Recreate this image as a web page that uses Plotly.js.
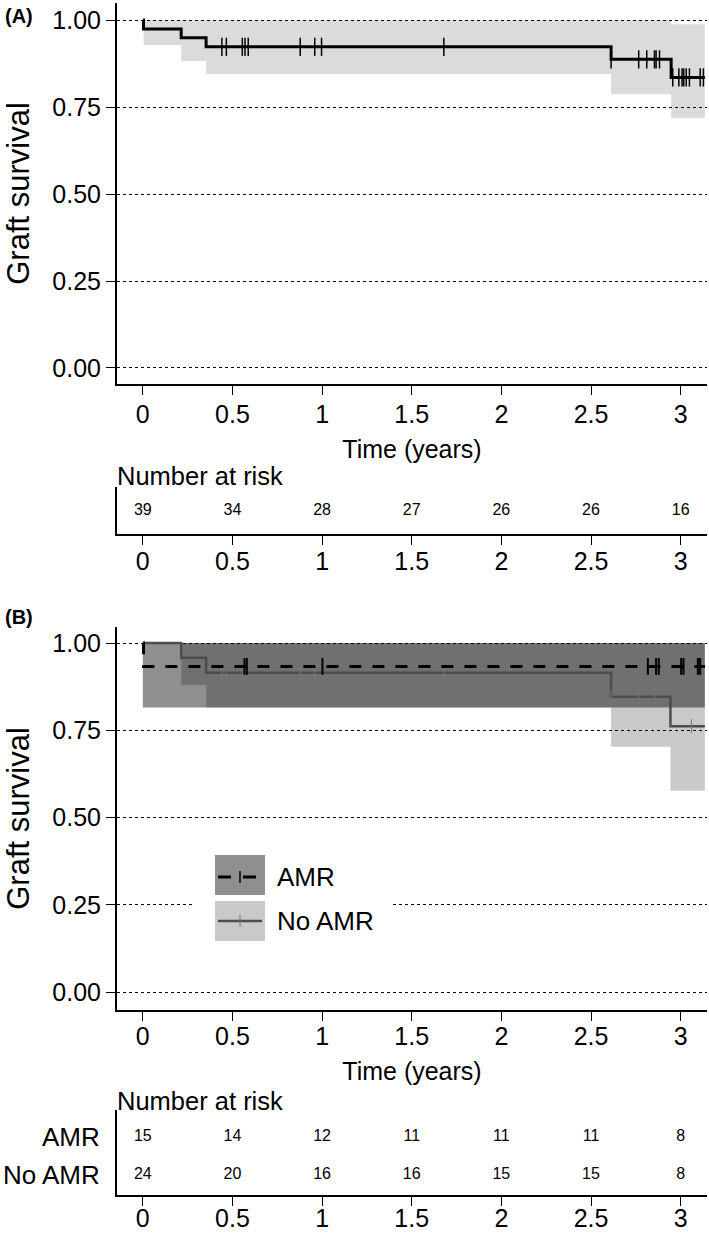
<!DOCTYPE html>
<html>
<head>
<meta charset="utf-8">
<script src="https://cdn.plot.ly/plotly-3.0.1.min.js"></script>
<style>html,body{margin:0;padding:0;background:#fff;}#chart{width:709px;height:1237px;}</style>
</head>
<body>
<div id="chart"></div>
<script>
// ---------- DATA ----------
// Panel A: all patients
const stepTimesA = [0, 0.004, 0.214, 0.353, 2.612, 2.947];
const survA      = [1, 0.974, 0.949, 0.923, 0.887, 0.835];
const bandTimesA = [0.004, 0.214, 0.353, 2.612, 2.947];
const bandLoA    = [0.928, 0.882, 0.845, 0.787, 0.718];
const bandHiA    = [1.000, 1.000, 1.000, 1.000, 0.988];
const censorA    = [0.441, 0.466, 0.555, 0.570, 0.588, 0.878, 0.959, 0.997, 1.679, 2.612,
                    2.766, 2.811, 2.854, 2.863, 2.882, 2.956, 2.990, 3.008, 3.017, 3.031,
                    3.049, 3.109, 3.127];
const endTimeA   = 3.135;

// Panel B: AMR vs No AMR
const stepTimesAMR = [0, 0.004];
const survAMR      = [1, 0.933];
const bandTimesAMR = [0.0, 0.004];
const bandLoAMR    = [0.815, 0.815];
const bandHiAMR    = [1.000, 1.000];
const censorAMR    = [0.567, 0.580, 1.002, 2.817, 2.863, 2.878, 3.003, 3.016, 3.096, 3.109];

const stepTimesNo = [0, 0.214, 0.353, 2.612, 2.943];
const survNo      = [1, 0.958, 0.915, 0.846, 0.762];
const bandTimesNo = [0.214, 0.353, 2.612, 2.943];
const bandLoNo    = [0.880, 0.815, 0.703, 0.577];
const bandHiNo    = [1.000, 1.000, 1.000, 1.000];
const censorNo    = [0.441, 0.466, 0.555, 0.570, 0.878, 0.959, 1.679, 2.612, 2.766, 2.854, 3.060];
const endTimeB    = 3.135;

// Number at risk
const riskTimes  = [0, 0.5, 1, 1.5, 2, 2.5, 3];
const riskAll    = [39, 34, 28, 27, 26, 26, 16];
const riskAMR    = [15, 14, 12, 11, 11, 11, 8];
const riskNoAMR  = [24, 20, 16, 16, 15, 15, 8];

// Tick labels
const xTickVals = [0, 0.5, 1, 1.5, 2, 2.5, 3];
const xTickText = ['0', '0.5', '1', '1.5', '2', '2.5', '3'];
const yTickVals = [0, 0.25, 0.5, 0.75, 1];
const yTickText = ['0.00', '0.25', '0.50', '0.75', '1.00'];
const groupNames = ['AMR', 'No AMR'];

// ---------- HELPERS ----------
const W = 709, H = 1237;
const FONT = 'Liberation Sans, Arial, Helvetica, sans-serif';
const px = p => p / W;
const py = p => 1 - p / H;

function stepPath(times, vals, tEnd) {
  const xs = [], ys = [];
  for (let i = 0; i < times.length; i++) {
    const t1 = (i + 1 < times.length) ? times[i + 1] : tEnd;
    xs.push(times[i], t1);
    ys.push(vals[i], vals[i]);
  }
  return {x: xs, y: ys};
}
function bandPoly(times, lo, hi, tEnd) {
  const up = stepPath(times, hi, tEnd);
  const dn = stepPath(times, lo, tEnd);
  return {x: up.x.concat(dn.x.slice().reverse()), y: up.y.concat(dn.y.slice().reverse())};
}
function survLine(times, vals, tEnd) {
  return {x: times.concat([tEnd]), y: vals.concat([vals[vals.length - 1]])};
}
function survAt(times, vals, t) {
  let s = vals[0];
  for (let i = 0; i < times.length; i++) if (times[i] <= t) s = vals[i];
  return s;
}

// ---------- TRACES ----------
const traces = [];
function band(times, lo, hi, tEnd, color, xa, ya) {
  const p = bandPoly(times, lo, hi, tEnd);
  traces.push({x: p.x, y: p.y, xaxis: xa, yaxis: ya, type: 'scatter', mode: 'lines',
    fill: 'toself', fillcolor: color, line: {width: 0}, hoverinfo: 'skip', showlegend: false});
}
function line(times, vals, tEnd, color, width, dash, xa, ya) {
  const l = survLine(times, vals, tEnd);
  traces.push({x: l.x, y: l.y, xaxis: xa, yaxis: ya, type: 'scatter', mode: 'lines',
    line: {color: color, width: width, shape: 'hv', dash: dash}, hoverinfo: 'skip', showlegend: false});
}
function censor(ts, times, vals, color, size, width, xa, ya) {
  traces.push({x: ts, y: ts.map(t => survAt(times, vals, t)), xaxis: xa, yaxis: ya,
    type: 'scatter', mode: 'markers', cliponaxis: false,
    marker: {symbol: 'line-ns', size: size, line: {color: color, width: width}},
    hoverinfo: 'skip', showlegend: false});
}
function risk(vals, yv, xa, ya) {
  traces.push({x: riskTimes, y: riskTimes.map(() => yv), text: vals.map(String),
    xaxis: xa, yaxis: ya, type: 'scatter', mode: 'text', cliponaxis: false,
    textfont: {family: FONT, size: 16, color: '#000'}, textposition: 'middle center',
    hoverinfo: 'skip', showlegend: false});
}

// Panel A
band(bandTimesA, bandLoA, bandHiA, endTimeA, 'rgba(0,0,0,0.14)', 'x', 'y');
line(stepTimesA, survA, endTimeA, '#000', 3, 'solid', 'x', 'y');
censor(censorA, stepTimesA, survA, '#000', 13, 1.5, 'x', 'y');
risk(riskAll, 1, 'x2', 'y2');

// Panel B
band(bandTimesAMR, bandLoAMR, bandHiAMR, endTimeB, 'rgba(0,0,0,0.44)', 'x3', 'y3');
band(bandTimesNo, bandLoNo, bandHiNo, endTimeB, 'rgba(0,0,0,0.21)', 'x3', 'y3');
line(stepTimesNo, survNo, endTimeB, '#4d4d4d', 2.5, 'solid', 'x3', 'y3');
censor(censorNo, stepTimesNo, survNo, '#777', 10, 1, 'x3', 'y3');
line(stepTimesAMR, survAMR, endTimeB, '#000', 3, '12px,11px', 'x3', 'y3');
censor(censorAMR, stepTimesAMR, survAMR, '#000', 12, 2, 'x3', 'y3');
risk(riskAMR, 2, 'x4', 'y4');
risk(riskNoAMR, 1, 'x4', 'y4');

// ---------- LAYOUT ----------
const xDom = [px(117), px(707)];
const xRange = [-0.144, 3.147];
function xAxis(anchor, withTitle, standoff) {
  const ax = {domain: xDom, range: xRange, anchor: anchor, showline: true, linewidth: 2,
    linecolor: '#000', ticks: 'outside', ticklen: 9, tickwidth: 1, tickcolor: '#000',
    ticklabelstandoff: standoff,
    tickvals: xTickVals, ticktext: xTickText, tickfont: {family: FONT, size: 25, color: '#000'},
    showgrid: false, zeroline: false, fixedrange: true};
  if (withTitle) ax.title = {text: 'Time (years)', font: {family: FONT, size: 25, color: '#000'}, standoff: 13};
  return ax;
}
function yMain(dom, range, anchor) {
  return {domain: dom, range: range, anchor: anchor, showline: true, linewidth: 2, linecolor: '#000',
    ticks: 'outside', ticklen: 9, tickwidth: 1, tickcolor: '#000',
    tickvals: yTickVals, ticktext: yTickText, tickfont: {family: FONT, size: 25, color: '#000'},
    showgrid: true, gridcolor: '#000', gridwidth: 1, griddash: '3px,3px', zeroline: false,
    title: {text: 'Graft survival', font: {family: FONT, size: 31, color: '#000'}, standoff: 13},
    fixedrange: true};
}

const shapes = [
  // legend background
  {type: 'rect', xref: 'paper', yref: 'paper', x0: px(193), x1: px(393), y0: py(948), y1: py(850),
   fillcolor: '#fff', line: {width: 0}, layer: 'above'},
  {type: 'rect', xref: 'paper', yref: 'paper', x0: px(215), x1: px(265), y0: py(895), y1: py(855),
   fillcolor: 'rgba(0,0,0,0.44)', line: {width: 0}, layer: 'above'},
  {type: 'rect', xref: 'paper', yref: 'paper', x0: px(215), x1: px(265), y0: py(941), y1: py(901),
   fillcolor: 'rgba(0,0,0,0.21)', line: {width: 0}, layer: 'above'},
  {type: 'line', xref: 'paper', yref: 'paper', x0: px(218), x1: px(231), y0: py(877), y1: py(877),
   line: {color: '#000', width: 3}, layer: 'above'},
  {type: 'line', xref: 'paper', yref: 'paper', x0: px(243), x1: px(256), y0: py(877), y1: py(877),
   line: {color: '#000', width: 3}, layer: 'above'},
  {type: 'line', xref: 'paper', yref: 'paper', x0: px(240), x1: px(240), y0: py(871), y1: py(883),
   line: {color: '#000', width: 1.5}, layer: 'above'},
  {type: 'line', xref: 'paper', yref: 'paper', x0: px(218), x1: px(262), y0: py(921), y1: py(921),
   line: {color: '#4d4d4d', width: 2.5}, layer: 'above'},
  {type: 'line', xref: 'paper', yref: 'paper', x0: px(240), x1: px(240), y0: py(915), y1: py(927),
   line: {color: '#777', width: 1}, layer: 'above'}
];

const ann = (text, x, y, size, xanchor, bold) => ({text: bold ? '<b>' + text + '</b>' : text,
  xref: 'paper', yref: 'paper', x: px(x), y: py(y), xanchor: xanchor, yanchor: 'middle',
  showarrow: false, font: {family: FONT, size: size, color: '#000'}});

const layout = {
  width: W, height: H, margin: {l: 0, r: 0, t: 0, b: 0},
  paper_bgcolor: '#fff', plot_bgcolor: 'rgba(0,0,0,0)', showlegend: false,
  font: {family: FONT, color: '#000'},
  xaxis: xAxis('y', true, -2),
  yaxis: yMain([py(384), py(3)], [-0.046, 1.0489], 'x'),
  xaxis2: xAxis('y2', false, -5),
  yaxis2: {domain: [py(534), py(487)], range: [0, 2], anchor: 'x2', showline: true, linewidth: 2,
    linecolor: '#000', ticks: '', showticklabels: false, showgrid: false, zeroline: false, fixedrange: true},
  xaxis3: xAxis('y3', true, -6),
  yaxis3: yMain([py(1010), py(627)], [-0.0507, 1.0458], 'x3'),
  xaxis4: xAxis('y4', false, -9),
  yaxis4: {domain: [py(1195), py(1110)], range: [0.474, 2.71], anchor: 'x4', showline: true, linewidth: 2,
    linecolor: '#000', ticks: '', tickvals: [2, 1], ticktext: groupNames, ticklabelstandoff: 10,
    tickfont: {family: FONT, size: 26, color: '#000'}, showgrid: false, zeroline: false, fixedrange: true},
  shapes: shapes,
  annotations: [
    ann('(A)', 3, 16, 20, 'left', true),
    ann('(B)', 3, 617, 20, 'left', true),
    ann('Number at risk', 115, 476, 25.5, 'left', false),
    ann('Number at risk', 115, 1101, 25.5, 'left', false),
    ann(groupNames[0], 275, 877, 26, 'left', false),
    ann(groupNames[1], 275, 921, 26, 'left', false)
  ]
};

Plotly.newPlot('chart', traces, layout, {staticPlot: true, displayModeBar: false});
</script>
</body>
</html>
